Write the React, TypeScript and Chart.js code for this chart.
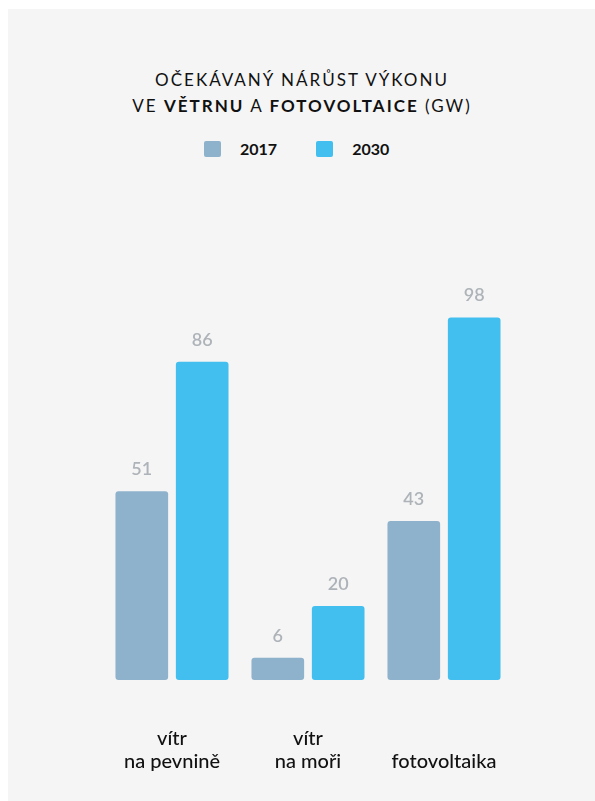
import React, { useEffect, useRef } from "react";
import { Chart, registerables } from "chart.js";

Chart.register(...registerables);

const categories: string[][] = [["vítr", "na pevnině"], ["vítr", "na moři"], ["fotovoltaika"]];
const series2017: number[] = [51, 6, 43];
const series2030: number[] = [86, 20, 98];
const seriesNames: string[] = ["2017", "2030"];
const seriesColors: string[] = ["#8eb1cc", "#42bfee"];
const yMax = 100;

const FONT = "Lato, 'Noto Sans', sans-serif";

const valueLabels = {
  id: "valueLabels",
  afterDatasetsDraw(chart: any) {
    const ctx = chart.ctx;
    ctx.save();
    ctx.font = `600 18px ${FONT}`;
    ctx.fillStyle = "#adb3b8";
    ctx.textAlign = "center";
    ctx.textBaseline = "middle";
    chart.data.datasets.forEach((ds: any, di: number) => {
      const meta = chart.getDatasetMeta(di);
      meta.data.forEach((el: any, i: number) => {
        ctx.fillText(String(ds.data[i]), el.x, el.y - 22);
      });
    });
    ctx.restore();
  },
};

export default function App() {
  const ref = useRef<HTMLCanvasElement | null>(null);
  useEffect(() => {
    if (!ref.current) return;
    const chart = new Chart(ref.current, {
      type: "bar",
      data: {
        labels: categories,
        datasets: [
          { label: seriesNames[0], data: series2017, backgroundColor: seriesColors[0] },
          { label: seriesNames[1], data: series2030, backgroundColor: seriesColors[1] },
        ],
      },
      options: {
        animation: false,
        responsive: true,
        maintainAspectRatio: false,
        datasets: {
          bar: {
            categoryPercentage: 0.888,
            barPercentage: 0.872,
            borderRadius: 3,
            borderSkipped: false,
          },
        } as any,
        layout: { padding: { top: 140, left: 96, right: 83, bottom: 10 } },
        plugins: { legend: { display: false }, tooltip: { enabled: false }, title: { display: false } },
        scales: {
          y: { display: false, min: 0, max: yMax },
          x: {
            grid: { display: false },
            border: { display: false },
            ticks: {
              padding: 51,
              color: "#111111",
              font: { family: FONT, size: 20, weight: "500", lineHeight: "23px" as any },
              crossAlign: "far" as any,
              maxRotation: 0,
              autoSkip: false,
            },
          },
        },
      },
      plugins: [valueLabels],
    });
    return () => chart.destroy();
  }, []);

  return (
    <div style={{ position: "fixed", left: 8, top: 9, right: 0, bottom: 0, background: "#f5f5f5", fontFamily: FONT }}>
      <div
        style={{
          position: "absolute",
          left: 0,
          top: 58,
          width: 588,
          textAlign: "center",
          fontSize: 17,
          lineHeight: "26px",
          letterSpacing: "2px",
          color: "#111",
        }}
      >
        <div>OČEKÁVANÝ NÁRŮST VÝKONU</div>
        <div>
          VE <b style={{ fontWeight: 700 }}>VĚTRNU</b> A <b style={{ fontWeight: 700 }}>FOTOVOLTAICE</b> (GW)
        </div>
      </div>
      <div
        style={{
          position: "absolute",
          left: 196,
          top: 130,
          display: "flex",
          alignItems: "center",
          fontSize: 16,
          lineHeight: "20px",
          fontWeight: 700,
          color: "#111",
        }}
      >
        <span style={{ width: 17, height: 16, borderRadius: 2, background: seriesColors[0], display: "inline-block" }} />
        <span style={{ marginLeft: 19 }}>{seriesNames[0]}</span>
        <span style={{ width: 17, height: 16, borderRadius: 2, background: seriesColors[1], display: "inline-block", marginLeft: 39 }} />
        <span style={{ marginLeft: 19 }}>{seriesNames[1]}</span>
      </div>
      <div style={{ position: "absolute", left: 0, top: 161, width: 587, height: 676 }}>
        <canvas ref={ref} />
      </div>
    </div>
  );
}
